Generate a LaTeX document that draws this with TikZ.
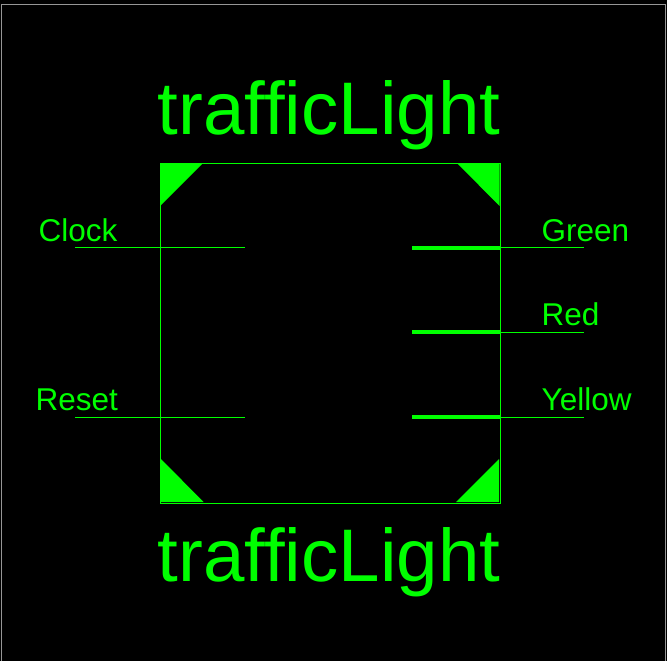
\documentclass[tikz,border=0pt]{standalone}
\usepackage{fontspec}
\setmainfont{Liberation Sans}
\definecolor{lime}{RGB}{0,255,0}
\definecolor{frameline}{RGB}{150,150,150}
\tikzset{
  x=1pt,y=-1pt,
  thinwire/.style={draw=lime,line width=1pt},
  thickwire/.style={draw=lime,line width=4pt},
  corner/.style={fill=lime,draw=none},
  title/.style={text=lime,font=\fontsize{74.5}{75}\selectfont,anchor=base,inner sep=0pt},
  pinlabel/.style={text=lime,font=\fontsize{31.5}{32}\selectfont,anchor=base west,inner sep=0pt},
  body/.style={draw=lime,line width=1pt,fill=none,inner sep=0pt,minimum width=340pt,minimum height=340pt,anchor=north west},
}
\begin{document}
\begin{tikzpicture}
\useasboundingbox[fill=black] (0,0) rectangle (667,661);
\draw[frameline,line width=1pt] (1.5,661) -- (1.5,4.5) -- (665.5,4.5) -- (665.5,661);
\node[body] (box) at (160,163) {};
% corner marks
\fill[corner] (160,163) -- (203,163) -- (160,206) -- cycle;
\fill[corner] (457,163) -- (499.5,163) -- (499.5,206) -- cycle;
\fill[corner] (456,502) -- (499,502) -- (499,459) -- cycle;
\fill[corner] (161,459) -- (161,502) -- (203.5,502) -- cycle;
% titles
\node[title] (top) at (329,134) {trafficLight};
\node[title] (bottom) at (329,581) {trafficLight};
% pin ends
\coordinate (clkA) at (75,247.5);   \coordinate (clkB) at (245,247.5);
\coordinate (rstA) at (75,417.5);   \coordinate (rstB) at (245,417.5);
\coordinate (grnI) at (412,248);    \coordinate (grnM) at (500,247.5);  \coordinate (grnO) at (584,247.5);
\coordinate (redI) at (412,332);    \coordinate (redM) at (500,332.5);  \coordinate (redO) at (584,332.5);
\coordinate (yelI) at (412,417);    \coordinate (yelM) at (500,417.5);  \coordinate (yelO) at (584,417.5);
\draw[thinwire] (clkA) -- (clkB);
\draw[thinwire] (rstA) -- (rstB);
\draw[thickwire] (grnI) -- (grnI -| grnM);
\draw[thickwire] (redI) -- (redI -| redM);
\draw[thickwire] (yelI) -- (yelI -| yelM);
\draw[thinwire] (grnM) -- (grnO);
\draw[thinwire] (redM) -- (redO);
\draw[thinwire] (yelM) -- (yelO);
% labels
\node[pinlabel] (clock) at (38.5,241) {Clock};
\node[pinlabel] (reset) at (35.5,410) {Reset};
\node[pinlabel] (green) at (541.5,241) {Green};
\node[pinlabel] (red) at (541.5,325) {Red};
\node[pinlabel] (yellow) at (541.5,410) {Yellow};
\end{tikzpicture}
\end{document}
